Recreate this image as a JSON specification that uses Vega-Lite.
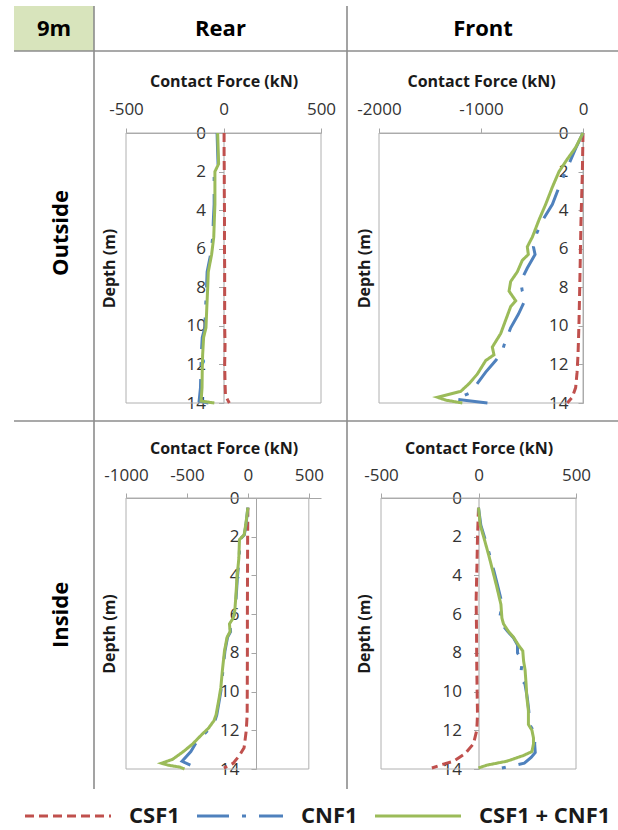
{
"$schema": "https://vega.github.io/schema/vega-lite/v6.json",
"padding": {"left": 13, "top": 5, "right": 0, "bottom": 0},
"background": "white",
"columns": 3,
"spacing": 0,
"bounds": "flush",
"align": "each",
"datasets": {
"lines": [
{"p":"RO","s":"CSF1","d":0,"f":3},{"p":"RO","s":"CSF1","d":1,"f":3},{"p":"RO","s":"CSF1","d":2,"f":4},{"p":"RO","s":"CSF1","d":3,"f":4},{"p":"RO","s":"CSF1","d":4,"f":5},{"p":"RO","s":"CSF1","d":5,"f":5},{"p":"RO","s":"CSF1","d":6,"f":5},{"p":"RO","s":"CSF1","d":7,"f":6},{"p":"RO","s":"CSF1","d":8,"f":6},{"p":"RO","s":"CSF1","d":9,"f":6},{"p":"RO","s":"CSF1","d":10,"f":6},{"p":"RO","s":"CSF1","d":11,"f":8},{"p":"RO","s":"CSF1","d":12,"f":6},{"p":"RO","s":"CSF1","d":13,"f":8},{"p":"RO","s":"CSF1","d":13.6,"f":10},{"p":"RO","s":"CSF1","d":13.85,"f":22},{"p":"RO","s":"CSF1","d":14,"f":30},
{"p":"RO","s":"CNF1","d":0,"f":-33},{"p":"RO","s":"CNF1","d":1,"f":-30},{"p":"RO","s":"CNF1","d":1.6,"f":-28},{"p":"RO","s":"CNF1","d":2,"f":-48},{"p":"RO","s":"CNF1","d":3,"f":-48},{"p":"RO","s":"CNF1","d":3.7,"f":-48},{"p":"RO","s":"CNF1","d":4.5,"f":-52},{"p":"RO","s":"CNF1","d":5.4,"f":-55},{"p":"RO","s":"CNF1","d":6.3,"f":-66},{"p":"RO","s":"CNF1","d":7.2,"f":-84},{"p":"RO","s":"CNF1","d":8,"f":-87},{"p":"RO","s":"CNF1","d":8.9,"f":-91},{"p":"RO","s":"CNF1","d":10.1,"f":-96},{"p":"RO","s":"CNF1","d":10.6,"f":-109},{"p":"RO","s":"CNF1","d":11.5,"f":-114},{"p":"RO","s":"CNF1","d":12.3,"f":-116},{"p":"RO","s":"CNF1","d":13.2,"f":-118},{"p":"RO","s":"CNF1","d":13.9,"f":-125},{"p":"RO","s":"CNF1","d":14,"f":-77},
{"p":"RO","s":"CSF1 + CNF1","d":0,"f":-30},{"p":"RO","s":"CSF1 + CNF1","d":1,"f":-27},{"p":"RO","s":"CSF1 + CNF1","d":1.6,"f":-25},{"p":"RO","s":"CSF1 + CNF1","d":2,"f":-44},{"p":"RO","s":"CSF1 + CNF1","d":3,"f":-44},{"p":"RO","s":"CSF1 + CNF1","d":3.7,"f":-44},{"p":"RO","s":"CSF1 + CNF1","d":4.5,"f":-47},{"p":"RO","s":"CSF1 + CNF1","d":5.4,"f":-50},{"p":"RO","s":"CSF1 + CNF1","d":6.3,"f":-61},{"p":"RO","s":"CSF1 + CNF1","d":7.2,"f":-78},{"p":"RO","s":"CSF1 + CNF1","d":8,"f":-81},{"p":"RO","s":"CSF1 + CNF1","d":8.9,"f":-85},{"p":"RO","s":"CSF1 + CNF1","d":10.1,"f":-90},{"p":"RO","s":"CSF1 + CNF1","d":10.6,"f":-102},{"p":"RO","s":"CSF1 + CNF1","d":11.5,"f":-107},{"p":"RO","s":"CSF1 + CNF1","d":12.3,"f":-109},{"p":"RO","s":"CSF1 + CNF1","d":13.2,"f":-110},{"p":"RO","s":"CSF1 + CNF1","d":13.9,"f":-115},{"p":"RO","s":"CSF1 + CNF1","d":14,"f":-47},
{"p":"FO","s":"CSF1","d":0,"f":0},{"p":"FO","s":"CSF1","d":2,"f":-6},{"p":"FO","s":"CSF1","d":3.3,"f":-13},{"p":"FO","s":"CSF1","d":4.6,"f":-20},{"p":"FO","s":"CSF1","d":6,"f":-25},{"p":"FO","s":"CSF1","d":7.2,"f":-29},{"p":"FO","s":"CSF1","d":8.5,"f":-34},{"p":"FO","s":"CSF1","d":9.75,"f":-39},{"p":"FO","s":"CSF1","d":10.7,"f":-44},{"p":"FO","s":"CSF1","d":11.5,"f":-49},{"p":"FO","s":"CSF1","d":12.4,"f":-58},{"p":"FO","s":"CSF1","d":13.2,"f":-72},{"p":"FO","s":"CSF1","d":13.7,"f":-105},{"p":"FO","s":"CSF1","d":14,"f":-154},
{"p":"FO","s":"CNF1","d":0,"f":0},{"p":"FO","s":"CNF1","d":0.8,"f":-72},{"p":"FO","s":"CNF1","d":2,"f":-170},{"p":"FO","s":"CNF1","d":2.8,"f":-235},{"p":"FO","s":"CNF1","d":3.7,"f":-300},{"p":"FO","s":"CNF1","d":4.5,"f":-393},{"p":"FO","s":"CNF1","d":5.2,"f":-454},{"p":"FO","s":"CNF1","d":5.9,"f":-486},{"p":"FO","s":"CNF1","d":6.3,"f":-470},{"p":"FO","s":"CNF1","d":7,"f":-546},{"p":"FO","s":"CNF1","d":7.7,"f":-611},{"p":"FO","s":"CNF1","d":8.2,"f":-595},{"p":"FO","s":"CNF1","d":8.6,"f":-562},{"p":"FO","s":"CNF1","d":9.4,"f":-634},{"p":"FO","s":"CNF1","d":10.1,"f":-709},{"p":"FO","s":"CNF1","d":11,"f":-774},{"p":"FO","s":"CNF1","d":11.3,"f":-790},{"p":"FO","s":"CNF1","d":11.8,"f":-856},{"p":"FO","s":"CNF1","d":12.4,"f":-954},{"p":"FO","s":"CNF1","d":13.1,"f":-1052},{"p":"FO","s":"CNF1","d":13.5,"f":-1118},{"p":"FO","s":"CNF1","d":13.8,"f":-1250},{"p":"FO","s":"CNF1","d":14,"f":-937},
{"p":"FO","s":"CSF1 + CNF1","d":0,"f":0},{"p":"FO","s":"CSF1 + CNF1","d":0.75,"f":-72},{"p":"FO","s":"CSF1 + CNF1","d":1.4,"f":-160},{"p":"FO","s":"CSF1 + CNF1","d":2,"f":-235},{"p":"FO","s":"CSF1 + CNF1","d":2.8,"f":-300},{"p":"FO","s":"CSF1 + CNF1","d":3.7,"f":-366},{"p":"FO","s":"CSF1 + CNF1","d":4.5,"f":-431},{"p":"FO","s":"CSF1 + CNF1","d":5.4,"f":-497},{"p":"FO","s":"CSF1 + CNF1","d":5.9,"f":-546},{"p":"FO","s":"CSF1 + CNF1","d":6.3,"f":-536},{"p":"FO","s":"CSF1 + CNF1","d":6.6,"f":-595},{"p":"FO","s":"CSF1 + CNF1","d":7.2,"f":-644},{"p":"FO","s":"CSF1 + CNF1","d":7.7,"f":-709},{"p":"FO","s":"CSF1 + CNF1","d":8.2,"f":-725},{"p":"FO","s":"CSF1 + CNF1","d":8.7,"f":-660},{"p":"FO","s":"CSF1 + CNF1","d":9,"f":-709},{"p":"FO","s":"CSF1 + CNF1","d":9.7,"f":-758},{"p":"FO","s":"CSF1 + CNF1","d":10.4,"f":-807},{"p":"FO","s":"CSF1 + CNF1","d":11.1,"f":-889},{"p":"FO","s":"CSF1 + CNF1","d":11.5,"f":-873},{"p":"FO","s":"CSF1 + CNF1","d":11.8,"f":-954},{"p":"FO","s":"CSF1 + CNF1","d":12.5,"f":-1036},{"p":"FO","s":"CSF1 + CNF1","d":13,"f":-1118},{"p":"FO","s":"CSF1 + CNF1","d":13.4,"f":-1199},{"p":"FO","s":"CSF1 + CNF1","d":13.7,"f":-1428},{"p":"FO","s":"CSF1 + CNF1","d":13.85,"f":-1346},{"p":"FO","s":"CSF1 + CNF1","d":14,"f":-1183},
{"p":"RI","s":"CSF1","d":0.5,"f":0},{"p":"RI","s":"CSF1","d":2,"f":-2},{"p":"RI","s":"CSF1","d":4,"f":-3},{"p":"RI","s":"CSF1","d":6,"f":-4},{"p":"RI","s":"CSF1","d":8,"f":-4},{"p":"RI","s":"CSF1","d":10,"f":-5},{"p":"RI","s":"CSF1","d":11.2,"f":-6},{"p":"RI","s":"CSF1","d":12,"f":-13},{"p":"RI","s":"CSF1","d":12.9,"f":-31},{"p":"RI","s":"CSF1","d":13.3,"f":-69},{"p":"RI","s":"CSF1","d":13.7,"f":-120},{"p":"RI","s":"CSF1","d":13.95,"f":-197},
{"p":"RI","s":"CNF1","d":0.5,"f":0},{"p":"RI","s":"CNF1","d":1.4,"f":-16},{"p":"RI","s":"CNF1","d":1.9,"f":-29},{"p":"RI","s":"CNF1","d":2.15,"f":-67},{"p":"RI","s":"CNF1","d":3.1,"f":-71},{"p":"RI","s":"CNF1","d":4.1,"f":-86},{"p":"RI","s":"CNF1","d":5.2,"f":-97},{"p":"RI","s":"CNF1","d":5.8,"f":-103},{"p":"RI","s":"CNF1","d":6.2,"f":-116},{"p":"RI","s":"CNF1","d":6.5,"f":-147},{"p":"RI","s":"CNF1","d":6.9,"f":-142},{"p":"RI","s":"CNF1","d":7.2,"f":-167},{"p":"RI","s":"CNF1","d":7.9,"f":-188},{"p":"RI","s":"CNF1","d":8.9,"f":-205},{"p":"RI","s":"CNF1","d":9.8,"f":-217},{"p":"RI","s":"CNF1","d":10.3,"f":-230},{"p":"RI","s":"CNF1","d":11.2,"f":-255},{"p":"RI","s":"CNF1","d":11.5,"f":-270},{"p":"RI","s":"CNF1","d":11.9,"f":-310},{"p":"RI","s":"CNF1","d":12.2,"f":-360},{"p":"RI","s":"CNF1","d":12.7,"f":-430},{"p":"RI","s":"CNF1","d":13.1,"f":-468},{"p":"RI","s":"CNF1","d":13.6,"f":-540},{"p":"RI","s":"CNF1","d":14,"f":-400},
{"p":"RI","s":"CSF1 + CNF1","d":0.5,"f":0},{"p":"RI","s":"CSF1 + CNF1","d":1.4,"f":-18},{"p":"RI","s":"CSF1 + CNF1","d":1.9,"f":-31},{"p":"RI","s":"CSF1 + CNF1","d":2.15,"f":-69},{"p":"RI","s":"CSF1 + CNF1","d":3.1,"f":-74},{"p":"RI","s":"CSF1 + CNF1","d":4.1,"f":-89},{"p":"RI","s":"CSF1 + CNF1","d":5.2,"f":-100},{"p":"RI","s":"CSF1 + CNF1","d":5.8,"f":-107},{"p":"RI","s":"CSF1 + CNF1","d":6.2,"f":-120},{"p":"RI","s":"CSF1 + CNF1","d":6.5,"f":-151},{"p":"RI","s":"CSF1 + CNF1","d":6.9,"f":-146},{"p":"RI","s":"CSF1 + CNF1","d":7.2,"f":-171},{"p":"RI","s":"CSF1 + CNF1","d":7.9,"f":-192},{"p":"RI","s":"CSF1 + CNF1","d":8.9,"f":-209},{"p":"RI","s":"CSF1 + CNF1","d":9.8,"f":-222},{"p":"RI","s":"CSF1 + CNF1","d":10.3,"f":-235},{"p":"RI","s":"CSF1 + CNF1","d":11.2,"f":-261},{"p":"RI","s":"CSF1 + CNF1","d":11.5,"f":-278},{"p":"RI","s":"CSF1 + CNF1","d":11.9,"f":-324},{"p":"RI","s":"CSF1 + CNF1","d":12.2,"f":-375},{"p":"RI","s":"CSF1 + CNF1","d":12.7,"f":-452},{"p":"RI","s":"CSF1 + CNF1","d":13.1,"f":-529},{"p":"RI","s":"CSF1 + CNF1","d":13.5,"f":-618},{"p":"RI","s":"CSF1 + CNF1","d":13.7,"f":-708},{"p":"RI","s":"CSF1 + CNF1","d":13.8,"f":-656},{"p":"RI","s":"CSF1 + CNF1","d":13.9,"f":-560},{"p":"RI","s":"CSF1 + CNF1","d":14,"f":-520},
{"p":"FI","s":"CSF1","d":0.5,"f":0},{"p":"FI","s":"CSF1","d":2,"f":-5},{"p":"FI","s":"CSF1","d":3.5,"f":-8},{"p":"FI","s":"CSF1","d":5.2,"f":-12},{"p":"FI","s":"CSF1","d":7,"f":-10},{"p":"FI","s":"CSF1","d":8.6,"f":-9},{"p":"FI","s":"CSF1","d":10,"f":-7},{"p":"FI","s":"CSF1","d":11.2,"f":-5},{"p":"FI","s":"CSF1","d":12,"f":-9},{"p":"FI","s":"CSF1","d":12.7,"f":-26},{"p":"FI","s":"CSF1","d":13.2,"f":-68},{"p":"FI","s":"CSF1","d":13.6,"f":-128},{"p":"FI","s":"CSF1","d":13.75,"f":-180},{"p":"FI","s":"CSF1","d":13.95,"f":-239},
{"p":"FI","s":"CNF1","d":0.5,"f":0},{"p":"FI","s":"CNF1","d":1.4,"f":12},{"p":"FI","s":"CNF1","d":2.1,"f":33},{"p":"FI","s":"CNF1","d":2.9,"f":56},{"p":"FI","s":"CNF1","d":3.8,"f":80},{"p":"FI","s":"CNF1","d":4.6,"f":100},{"p":"FI","s":"CNF1","d":5.5,"f":122},{"p":"FI","s":"CNF1","d":6.2,"f":108},{"p":"FI","s":"CNF1","d":6.5,"f":118},{"p":"FI","s":"CNF1","d":6.9,"f":150},{"p":"FI","s":"CNF1","d":7.2,"f":178},{"p":"FI","s":"CNF1","d":7.6,"f":200},{"p":"FI","s":"CNF1","d":8,"f":200},{"p":"FI","s":"CNF1","d":8.4,"f":225},{"p":"FI","s":"CNF1","d":9.3,"f":214},{"p":"FI","s":"CNF1","d":9.6,"f":238},{"p":"FI","s":"CNF1","d":10.3,"f":250},{"p":"FI","s":"CNF1","d":11,"f":258},{"p":"FI","s":"CNF1","d":11.7,"f":262},{"p":"FI","s":"CNF1","d":12,"f":280},{"p":"FI","s":"CNF1","d":12.4,"f":290},{"p":"FI","s":"CNF1","d":12.7,"f":288},{"p":"FI","s":"CNF1","d":13.15,"f":291},{"p":"FI","s":"CNF1","d":13.4,"f":270},{"p":"FI","s":"CNF1","d":13.7,"f":235},{"p":"FI","s":"CNF1","d":13.95,"f":120},
{"p":"FI","s":"CSF1 + CNF1","d":0.5,"f":0},{"p":"FI","s":"CSF1 + CNF1","d":1.4,"f":9},{"p":"FI","s":"CSF1 + CNF1","d":2.1,"f":29},{"p":"FI","s":"CSF1 + CNF1","d":2.9,"f":51},{"p":"FI","s":"CSF1 + CNF1","d":3.8,"f":74},{"p":"FI","s":"CSF1 + CNF1","d":4.6,"f":94},{"p":"FI","s":"CSF1 + CNF1","d":5.5,"f":115},{"p":"FI","s":"CSF1 + CNF1","d":6.2,"f":120},{"p":"FI","s":"CSF1 + CNF1","d":6.5,"f":128},{"p":"FI","s":"CSF1 + CNF1","d":6.9,"f":154},{"p":"FI","s":"CSF1 + CNF1","d":7.2,"f":180},{"p":"FI","s":"CSF1 + CNF1","d":7.6,"f":205},{"p":"FI","s":"CSF1 + CNF1","d":7.9,"f":227},{"p":"FI","s":"CSF1 + CNF1","d":8.4,"f":231},{"p":"FI","s":"CSF1 + CNF1","d":8.9,"f":239},{"p":"FI","s":"CSF1 + CNF1","d":9.6,"f":244},{"p":"FI","s":"CSF1 + CNF1","d":10.3,"f":248},{"p":"FI","s":"CSF1 + CNF1","d":11,"f":256},{"p":"FI","s":"CSF1 + CNF1","d":11.7,"f":256},{"p":"FI","s":"CSF1 + CNF1","d":12,"f":274},{"p":"FI","s":"CSF1 + CNF1","d":12.4,"f":282},{"p":"FI","s":"CSF1 + CNF1","d":12.7,"f":282},{"p":"FI","s":"CSF1 + CNF1","d":13.1,"f":274},{"p":"FI","s":"CSF1 + CNF1","d":13.3,"f":231},{"p":"FI","s":"CSF1 + CNF1","d":13.6,"f":145},{"p":"FI","s":"CSF1 + CNF1","d":13.8,"f":43},{"p":"FI","s":"CSF1 + CNF1","d":13.95,"f":0}
]
},
"concat": [
 {"width": 80, "height": 45, "view": {"fill": "#d8e4bc"}, "data": {"values": [{"t": "9m"}]},
  "layer": [
   {"mark": {"type": "text", "fontSize": 22, "fontWeight": "bold", "color": "#000000"}, "encoding": {"text": {"field": "t"}, "x": {"datum": 0.5, "scale": {"domain": [0, 1]}, "axis": null}, "y": {"datum": 0.5, "scale": {"domain": [0, 1]}, "axis": null}}},
   {"mark": {"type": "rule", "color": "#8c8c8c", "strokeWidth": 1.6}, "encoding": {"x": {"datum": 1}, "y": {"datum": 0}, "y2": {"datum": 1}}},
   {"mark": {"type": "rule", "color": "#8c8c8c", "strokeWidth": 1.6}, "encoding": {"x": {"datum": 0}, "x2": {"datum": 1}, "y": {"datum": 0}}}
  ]},
 {"width": 253, "height": 45, "data": {"values": [{"t": "Rear"}]},
  "layer": [
   {"mark": {"type": "text", "fontSize": 22, "fontWeight": "bold", "color": "#000000"}, "encoding": {"text": {"field": "t"}, "x": {"datum": 0.5, "scale": {"domain": [0, 1]}, "axis": null}, "y": {"datum": 0.5, "scale": {"domain": [0, 1]}, "axis": null}}},
   {"mark": {"type": "rule", "color": "#8c8c8c", "strokeWidth": 1.6}, "encoding": {"x": {"datum": 1}, "y": {"datum": 0}, "y2": {"datum": 1}}},
   {"mark": {"type": "rule", "color": "#8c8c8c", "strokeWidth": 1.6}, "encoding": {"x": {"datum": 0}, "x2": {"datum": 1}, "y": {"datum": 0}}}
  ]},
 {"width": 272, "height": 45, "data": {"values": [{"t": "Front"}]},
  "layer": [
   {"mark": {"type": "text", "fontSize": 22, "fontWeight": "bold", "color": "#000000"}, "encoding": {"text": {"field": "t"}, "x": {"datum": 0.5, "scale": {"domain": [0, 1]}, "axis": null}, "y": {"datum": 0.5, "scale": {"domain": [0, 1]}, "axis": null}}},
   {"mark": {"type": "rule", "color": "#8c8c8c", "strokeWidth": 1.6}, "encoding": {"x": {"datum": 0}, "x2": {"datum": 1}, "y": {"datum": 0}}}
  ]},
 {"width": 80, "height": 370, "data": {"values": [{"t": "Outside"}]},
  "layer": [
   {"mark": {"type": "text", "fontSize": 22, "fontWeight": "bold", "color": "#000000", "angle": 270}, "encoding": {"text": {"field": "t"}, "x": {"datum": 0.59, "scale": {"domain": [0, 1]}, "axis": null}, "y": {"datum": 0.508, "scale": {"domain": [0, 1]}, "axis": null}}},
   {"mark": {"type": "rule", "color": "#8c8c8c", "strokeWidth": 1.6}, "encoding": {"x": {"datum": 1}, "y": {"datum": 0}, "y2": {"datum": 1}}},
   {"mark": {"type": "rule", "color": "#8c8c8c", "strokeWidth": 1.6}, "encoding": {"x": {"datum": 0}, "x2": {"datum": 1}, "y": {"datum": 0}}}
  ]},
 {"width": 253, "height": 370,
  "layer": [
   {"layer": [
     {"data": {"values": [{}]}, "mark": {"type": "rect", "fillOpacity": 0, "stroke": "#b0b0b0", "strokeWidth": 1}, "encoding": {"x": {"datum": -500}, "x2": {"datum": 500}, "y": {"datum": 0}, "y2": {"datum": 14}}},
     {"data": {"name": "lines"}, "transform": [{"filter": "datum.p == 'RO'"}], "mark": {"type": "line", "strokeWidth": 3},
      "encoding": {
       "x": {"field": "f", "type": "quantitative", "scale": {"domain": [-500, 500], "range": [32, 227]}, "axis": {"orient": "top", "offset": -82, "values": [-500, 0, 500], "labelExpr": "'' + datum.value", "title": "Contact Force (kN)", "titleX": 129.5, "titleY": -52, "titleBaseline": "middle", "tickSize": 5, "labelPadding": 10, "labelFlush": false, "labelOverlap": false}},
       "y": {"field": "d", "type": "quantitative", "scale": {"domain": [0, 14], "range": [82, 352]}, "axis": {"orient": "left", "offset": -129.5, "values": [0, 2, 4, 6, 8, 10, 12, 14], "title": "Depth (m)", "titleX": -114.5, "titleY": 217, "titleBaseline": "middle", "tickSize": 5, "labelPadding": 13, "labelOverlap": false}},
       "color": {"field": "s", "type": "nominal", "scale": {"domain": ["CSF1", "CNF1", "CSF1 + CNF1"], "range": ["#c0504d", "#4f81bd", "#9bbb59"]}, "title": null},
       "strokeDash": {"field": "s", "type": "nominal", "scale": {"domain": ["CSF1", "CNF1", "CSF1 + CNF1"], "range": [[9, 5], [32, 13, 4, 13], [1, 0]]}, "title": null},
       "order": {"field": "d", "type": "quantitative"}
      }}
   ]},
   {"data": {"values": [{}]}, "layer": [
     {"mark": {"type": "rule", "color": "#8c8c8c", "strokeWidth": 1.6}, "encoding": {"x": {"datum": 1, "scale": {"domain": [0, 1]}, "axis": null}, "y": {"datum": 0, "scale": {"domain": [0, 1]}, "axis": null}, "y2": {"datum": 1}}},
     {"mark": {"type": "rule", "color": "#8c8c8c", "strokeWidth": 1.6}, "encoding": {"x": {"datum": 0}, "x2": {"datum": 1}, "y": {"datum": 0}}}
   ]}
  ],
  "resolve": {"scale": {"x": "independent", "y": "independent"}}},
 {"width": 272, "height": 370,
  "layer": [
   {"layer": [
     {"data": {"values": [{}]}, "mark": {"type": "rect", "fillOpacity": 0, "stroke": "#b0b0b0", "strokeWidth": 1}, "encoding": {"x": {"datum": -2000}, "x2": {"datum": 0}, "y": {"datum": 0}, "y2": {"datum": 14}}},
     {"data": {"name": "lines"}, "transform": [{"filter": "datum.p == 'FO'"}], "mark": {"type": "line", "strokeWidth": 3},
      "encoding": {
       "x": {"field": "f", "type": "quantitative", "scale": {"domain": [-2000, 0], "range": [32, 236]}, "axis": {"orient": "top", "offset": -82, "values": [-2000, -1000, 0], "labelExpr": "'' + datum.value", "title": "Contact Force (kN)", "titleX": 134, "titleY": -52, "titleBaseline": "middle", "tickSize": 5, "labelPadding": 10, "labelFlush": false, "labelOverlap": false}},
       "y": {"field": "d", "type": "quantitative", "scale": {"domain": [0, 14], "range": [82, 352]}, "axis": {"orient": "left", "offset": -236, "values": [0, 2, 4, 6, 8, 10, 12, 14], "title": "Depth (m)", "titleX": -219, "titleY": 217, "titleBaseline": "middle", "tickSize": 5, "labelPadding": 10, "labelOverlap": false}},
       "color": {"field": "s", "type": "nominal", "scale": {"domain": ["CSF1", "CNF1", "CSF1 + CNF1"], "range": ["#c0504d", "#4f81bd", "#9bbb59"]}, "title": null},
       "strokeDash": {"field": "s", "type": "nominal", "scale": {"domain": ["CSF1", "CNF1", "CSF1 + CNF1"], "range": [[9, 5], [32, 13, 4, 13], [1, 0]]}, "title": null},
       "order": {"field": "d", "type": "quantitative"}
      }}
   ]},
   {"data": {"values": [{}]}, "layer": [
     {"mark": {"type": "rule", "color": "#8c8c8c", "strokeWidth": 1.6}, "encoding": {"x": {"datum": 0, "scale": {"domain": [0, 1]}, "axis": null}, "x2": {"datum": 1}, "y": {"datum": 0, "scale": {"domain": [0, 1]}, "axis": null}}}
   ]}
  ],
  "resolve": {"scale": {"x": "independent", "y": "independent"}}},
 {"width": 80, "height": 368, "data": {"values": [{"t": "Inside"}]},
  "layer": [
   {"mark": {"type": "text", "fontSize": 22, "fontWeight": "bold", "color": "#000000", "angle": 270}, "encoding": {"text": {"field": "t"}, "x": {"datum": 0.59, "scale": {"domain": [0, 1]}, "axis": null}, "y": {"datum": 0.473, "scale": {"domain": [0, 1]}, "axis": null}}},
   {"mark": {"type": "rule", "color": "#8c8c8c", "strokeWidth": 1.6}, "encoding": {"x": {"datum": 1}, "y": {"datum": 0}, "y2": {"datum": 1}}}
  ]},
 {"width": 253, "height": 368,
  "layer": [
   {"layer": [
     {"data": {"values": [{}]}, "mark": {"type": "rect", "fillOpacity": 0, "stroke": "#b0b0b0", "strokeWidth": 1}, "encoding": {"x": {"datum": -1000}, "x2": {"datum": 500}, "y": {"datum": 0}, "y2": {"datum": 14}}},
     {"data": {"name": "lines"}, "transform": [{"filter": "datum.p == 'RI'"}], "mark": {"type": "line", "strokeWidth": 3},
      "encoding": {
       "x": {"field": "f", "type": "quantitative", "scale": {"domain": [-1000, 500], "range": [32, 227]}, "axis": {"orient": "top", "offset": -77, "values": [-1000, -500, 0, 500], "labelExpr": "'' + datum.value", "title": "Contact Force (kN)", "titleX": 129.5, "titleY": -50, "titleBaseline": "middle", "tickSize": 5, "labelPadding": 9, "labelFlush": false, "labelOverlap": false}},
       "y": {"field": "d", "type": "quantitative", "scale": {"domain": [0, 14], "range": [77, 348]}, "axis": {"orient": "left", "offset": -162, "values": [0, 2, 4, 6, 8, 10, 12, 14], "title": "Depth (m)", "titleX": -147, "titleY": 212.5, "titleBaseline": "middle", "tickSize": 5, "labelPadding": 12, "labelOverlap": false}},
       "color": {"field": "s", "type": "nominal", "scale": {"domain": ["CSF1", "CNF1", "CSF1 + CNF1"], "range": ["#c0504d", "#4f81bd", "#9bbb59"]}, "title": null},
       "strokeDash": {"field": "s", "type": "nominal", "scale": {"domain": ["CSF1", "CNF1", "CSF1 + CNF1"], "range": [[9, 5], [32, 13, 4, 13], [1, 0]]}, "title": null},
       "order": {"field": "d", "type": "quantitative"}
      }}
   ]},
   {"data": {"values": [{}]}, "layer": [
     {"mark": {"type": "rule", "color": "#8c8c8c", "strokeWidth": 1.6}, "encoding": {"x": {"datum": 1, "scale": {"domain": [0, 1]}, "axis": null}, "y": {"datum": 0, "scale": {"domain": [0, 1]}, "axis": null}, "y2": {"datum": 1}}}
   ]}
  ],
  "resolve": {"scale": {"x": "independent", "y": "independent"}}},
 {"width": 272, "height": 368,
  "layer": [
     {"data": {"values": [{}]}, "mark": {"type": "rect", "fillOpacity": 0, "stroke": "#b0b0b0", "strokeWidth": 1}, "encoding": {"x": {"datum": -500}, "x2": {"datum": 500}, "y": {"datum": 0}, "y2": {"datum": 14}}},
     {"data": {"name": "lines"}, "transform": [{"filter": "datum.p == 'FI'"}], "mark": {"type": "line", "strokeWidth": 3},
      "encoding": {
       "x": {"field": "f", "type": "quantitative", "scale": {"domain": [-500, 500], "range": [34, 229]}, "axis": {"orient": "top", "offset": -77, "values": [-500, 0, 500], "labelExpr": "'' + datum.value", "title": "Contact Force (kN)", "titleX": 131.5, "titleY": -50, "titleBaseline": "middle", "tickSize": 5, "labelPadding": 9, "labelFlush": false, "labelOverlap": false}},
       "y": {"field": "d", "type": "quantitative", "scale": {"domain": [0, 14], "range": [77, 348]}, "axis": {"orient": "left", "offset": -131.5, "values": [0, 2, 4, 6, 8, 10, 12, 14], "title": "Depth (m)", "titleX": -114.5, "titleY": 212.5, "titleBaseline": "middle", "tickSize": 5, "labelPadding": 12, "labelOverlap": false}},
       "color": {"field": "s", "type": "nominal", "scale": {"domain": ["CSF1", "CNF1", "CSF1 + CNF1"], "range": ["#c0504d", "#4f81bd", "#9bbb59"]}, "title": null},
       "strokeDash": {"field": "s", "type": "nominal", "scale": {"domain": ["CSF1", "CNF1", "CSF1 + CNF1"], "range": [[9, 5], [32, 13, 4, 13], [1, 0]]}, "title": null},
       "order": {"field": "d", "type": "quantitative"}
      }}
  ]}
],
"config": {
 "view": {"stroke": null},
 "font": "Open Sans",
 "text": {"font": "Open Sans"},
 "axis": {"grid": false, "domainColor": "#a6a6a6", "tickColor": "#a6a6a6", "labelColor": "#333333", "labelFont": "Open Sans", "labelFontSize": 17, "titleFont": "Open Sans", "titleFontSize": 16, "titleFontWeight": "bold", "titleColor": "#1a1a1a"},
 "legend": {"orient": "none", "legendX": 9, "legendY": 797, "direction": "horizontal", "symbolType": "stroke", "symbolSize": 7400, "symbolStrokeWidth": 3, "labelFont": "Open Sans", "labelFontSize": 22, "labelFontWeight": "bold", "labelColor": "#1a1a1a", "labelOffset": 16, "columnPadding": 15, "padding": 0, "clipHeight": 26}
}
}
